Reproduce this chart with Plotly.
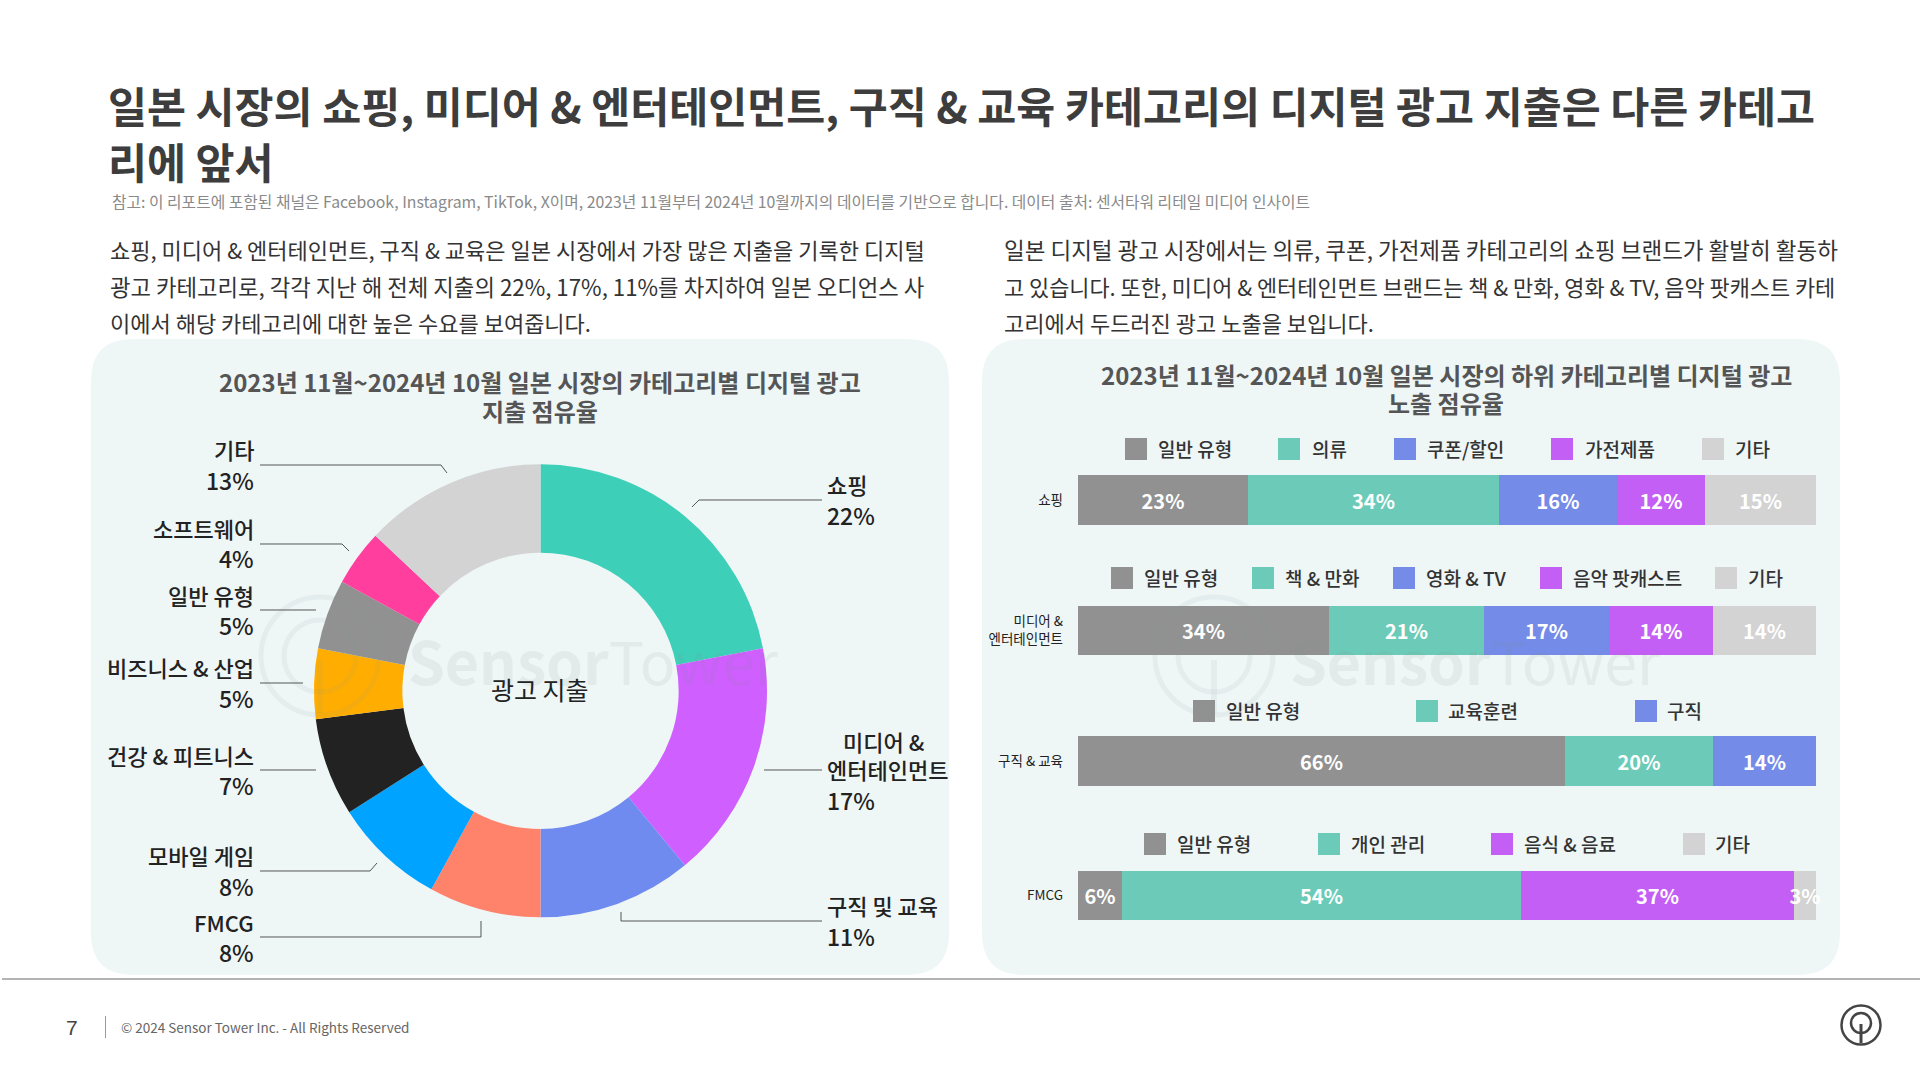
import plotly.graph_objects as go

# Ad spend share by category
categories = ["쇼핑", "미디어 & 엔터테인먼트", "구직 및 교육", "FMCG", "모바일 게임",
              "건강 & 피트니스", "비즈니스 & 산업", "일반 유형", "소프트웨어", "기타"]
spend_share = [22, 17, 11, 8, 8, 7, 5, 5, 4, 13]
slice_colors = ["#3ECFB9", "#CF5FFF", "#6F8BEF", "#FF826B", "#00A3FF",
                "#222222", "#FFAD00", "#919191", "#FF3E9E", "#D3D3D3"]

# Sub-category share per parent category
row_labels = ["쇼핑", "미디어 &<br>엔터테인먼트", "구직 & 교육", "FMCG"]
row_segments = [
    ["일반 유형", "의류", "쿠폰/할인", "가전제품", "기타"],
    ["일반 유형", "책 & 만화", "영화 & TV", "음악 팟캐스트", "기타"],
    ["일반 유형", "교육훈련", "구직"],
    ["일반 유형", "개인 관리", "음식 & 음료", "기타"],
]
row_values = [
    [23, 34, 16, 12, 15],
    [34, 21, 17, 14, 14],
    [66, 20, 14],
    [6, 54, 37, 3],
]
row_colors = [
    ["#919191", "#6BCBB8", "#748BE8", "#C45FF5", "#D3D3D3"],
    ["#919191", "#6BCBB8", "#748BE8", "#C45FF5", "#D3D3D3"],
    ["#919191", "#6BCBB8", "#748BE8"],
    ["#919191", "#6BCBB8", "#C45FF5", "#D3D3D3"],
]

W, H = 1920, 1080
KR = "Noto Sans CJK KR"
fx = lambda x: x / W
fy = lambda y: 1 - y / H

fig = go.Figure()
shapes, notes = [], []


def text(x, y, s, size, color="#222222", anchor="left", weight=400, family=KR, opacity=None):
    note = dict(x=fx(x), y=fy(y), xref="paper", yref="paper", text=s, showarrow=False,
                xanchor=anchor, yanchor="middle", align=anchor,
                font=dict(family=family, size=size, color=color, weight=weight))
    if opacity is not None:
        note["opacity"] = opacity
    notes.append(note)


def polyline(points, color="#555555", width=1, opacity=1.0):
    d = "M " + " L ".join(f"{fx(x):.5f} {fy(y):.5f}" for x, y in points)
    shapes.append(dict(type="path", xref="paper", yref="paper", path=d,
                       line=dict(color=color, width=width), opacity=opacity))


def rounded_panel(x0, y0, x1, y1, r, color):
    pts = [
        f"M {fx(x0 + r):.5f} {fy(y0):.5f}", f"L {fx(x1 - r):.5f} {fy(y0):.5f}",
        f"Q {fx(x1):.5f} {fy(y0):.5f} {fx(x1):.5f} {fy(y0 + r):.5f}",
        f"L {fx(x1):.5f} {fy(y1 - r):.5f}",
        f"Q {fx(x1):.5f} {fy(y1):.5f} {fx(x1 - r):.5f} {fy(y1):.5f}",
        f"L {fx(x0 + r):.5f} {fy(y1):.5f}",
        f"Q {fx(x0):.5f} {fy(y1):.5f} {fx(x0):.5f} {fy(y1 - r):.5f}",
        f"L {fx(x0):.5f} {fy(y0 + r):.5f}",
        f"Q {fx(x0):.5f} {fy(y0):.5f} {fx(x0 + r):.5f} {fy(y0):.5f} Z",
    ]
    shapes.append(dict(type="path", xref="paper", yref="paper", path=" ".join(pts),
                       fillcolor=color, line=dict(width=0), layer="below"))


def ring(cx, cy, r, color, width, opacity=1.0, layer="above"):
    shapes.append(dict(type="circle", xref="paper", yref="paper",
                       x0=fx(cx - r), x1=fx(cx + r), y0=fy(cy + r), y1=fy(cy - r),
                       line=dict(color=color, width=width), opacity=opacity, layer=layer))


# Background panels
rounded_panel(91, 339, 949, 975, 42, "#EEF6F6")
rounded_panel(982, 339, 1840, 975, 42, "#EEF6F6")

# Donut chart
cx, cy, R = 540.5, 690.8, 226.5
fig.add_trace(go.Pie(
    labels=categories, values=spend_share, hole=0.61, sort=False, direction="clockwise",
    rotation=0, marker=dict(colors=slice_colors, line=dict(width=0)), textinfo="none",
    hoverinfo="label+percent", showlegend=False,
    domain=dict(x=[fx(cx - R), fx(cx + R)], y=[fy(cy + R), fy(cy - R)]),
))

# Stacked bars, one axis pair per parent category
row_spans = [(475, 525), (606, 655), (736, 786), (871, 920)]
for i, (label, names, vals, cols, span) in enumerate(zip(row_labels, row_segments, row_values, row_colors, row_spans)):
    suffix = "" if i == 0 else str(i + 1)
    for name, v, c in zip(names, vals, cols):
        fig.add_trace(go.Bar(
            x=[v], y=[label], name=name, orientation="h", xaxis=f"x{suffix}", yaxis=f"y{suffix}",
            marker=dict(color=c, line=dict(width=0)), text=[f"{v}%"], textposition="inside",
            insidetextanchor="middle", constraintext="none", cliponaxis=False, textangle=0,
            textfont=dict(family=KR, size=20, color="white", weight=600),
            showlegend=False,
        ))
    fig.update_layout({
        f"xaxis{suffix}": dict(domain=[fx(1078), fx(1816)], range=[0, 100], visible=False,
                               anchor=f"y{suffix}"),
        f"yaxis{suffix}": dict(domain=[fy(span[1]), fy(span[0])], anchor=f"x{suffix}",
                               showline=False, ticks="", ticklabelstandoff=14, automargin=False,
                               tickfont=dict(family=KR, size=13.5, color="#222222")),
    })

# Legends above each bar
legend_y = [449, 578, 711, 844]
legend_square_x = [
    [1125, 1278, 1394, 1551, 1702],
    [1111, 1252, 1393, 1540, 1715],
    [1193, 1416, 1635],
    [1144, 1318, 1491, 1683],
]
legend_text_x = [
    [1156, 1310, 1425, 1583, 1733],
    [1142, 1283, 1424, 1571, 1746],
    [1224, 1446, 1665],
    [1175, 1349, 1522, 1713],
]
for names, cols, ly, sxs, txs in zip(row_segments, row_colors, legend_y, legend_square_x, legend_text_x):
    for name, c, sx, tx in zip(names, cols, sxs, txs):
        shapes.append(dict(type="rect", xref="paper", yref="paper",
                           x0=fx(sx), x1=fx(sx + 22), y0=fy(ly + 11), y1=fy(ly - 11),
                           fillcolor=c, line=dict(width=0)))
        text(tx, ly - 0.5, name, 19, "#333333", weight=500)

# Watermark
for wx, tx in [(320, 406), (1214, 1288)]:
    ring(wx, 656, 59, "#8a9a9a", 5, 0.09)
    ring(wx, 656, 36, "#8a9a9a", 5, 0.09)
    polyline([(wx, 660), (wx, 713)], "#8a9a9a", 6, 0.09)
    text(tx, 659, "<b>Sensor</b>Tower", 59, "#7f8c8c", opacity=0.10)

# Headline and note
text(106, 105, "일본 시장의 쇼핑, 미디어 & 엔터테인먼트, 구직 & 교육 카테고리의 디지털 광고 지출은 다른 카테고", 42.4, "#3D3D3D", weight=700)
text(106, 160, "리에 앞서", 42.4, "#3D3D3D", weight=700)
text(110, 202, "참고: 이 리포트에 포함된 채널은 Facebook, Instagram, TikTok, X이며, 2023년 11월부터 2024년 10월까지의 데이터를 기반으로 합니다. 데이터 출처: 센서타워 리테일 미디어 인사이트", 15.8, "#8A8A8A")

# Commentary columns, each line sized to fill its column
left_lines = [("쇼핑, 미디어 & 엔터테인먼트, 구직 & 교육은 일본 시장에서 가장 많은 지출을 기록한 디지털", 22),
              ("광고 카테고리로, 각각 지난 해 전체 지출의 22%, 17%, 11%를 차지하여 일본 오디언스 사", 22.3),
              ("이에서 해당 카테고리에 대한 높은 수요를 보여줍니다.", 22)]
right_lines = [("일본 디지털 광고 시장에서는 의류, 쿠폰, 가전제품 카테고리의 쇼핑 브랜드가 활발히 활동하", 22.5),
               ("고 있습니다. 또한, 미디어 & 엔터테인먼트 브랜드는 책 & 만화, 영화 & TV, 음악 팟캐스트 카테", 21.9),
               ("고리에서 두드러진 광고 노출을 보입니다.", 22)]
for (line, size), y in zip(left_lines, (249, 286, 322)):
    text(108, y, line, size, "#333333")
for (line, size), y in zip(right_lines, (249, 286, 322)):
    text(1002, y, line, size, "#333333")

# Panel titles
text(540, 382, "2023년 11월~2024년 10월 일본 시장의 카테고리별 디지털 광고", 24, "#555555", "center", 700)
text(540, 410, "지출 점유율", 24, "#555555", "center", 700)
text(1446, 374, "2023년 11월~2024년 10월 일본 시장의 하위 카테고리별 디지털 광고", 24, "#555555", "center", 700)
text(1446, 402, "노출 점유율", 24, "#555555", "center", 700)
text(540, 689, "광고 지출", 25, "#222222", "center")

# Donut callouts: name line(s), value line, leader
callouts = [
    (0, [(825, 484, "쇼핑", "left")], (825, 515, "left"), [(822, 500), (699, 500), (692, 507)]),
    (1, [(927, 741, "미디어 &", "right"), (825, 769, "엔터테인먼트", "left")], (825, 800, "left"), [(822, 770), (764, 770)]),
    (2, [(825, 905, "구직 및 교육", "left")], (825, 936, "left"), [(822, 921), (621, 921), (621, 912)]),
    (3, [(256, 922, "FMCG", "right")], (256, 952, "right"), [(260, 937), (481, 937), (481, 921)]),
    (4, [(256, 855, "모바일 게임", "right")], (256, 886, "right"), [(260, 871), (370, 871), (377, 863)]),
    (5, [(256, 755, "건강 & 피트니스", "right")], (256, 785, "right"), [(260, 770), (316, 770)]),
    (6, [(256, 667, "비즈니스 & 산업", "right")], (256, 698, "right"), [(260, 683), (303, 683)]),
    (7, [(256, 595, "일반 유형", "right")], (256, 625, "right"), [(260, 610), (316, 610)]),
    (8, [(256, 528, "소프트웨어", "right")], (256, 558, "right"), [(260, 544), (342, 544), (349, 551)]),
    (9, [(256, 449, "기타", "right")], (256, 480, "right"), [(260, 465), (441, 465), (447, 473)]),
]
for idx, name_lines, (vx, vy, va), leader in callouts:
    for nx, ny, s, a in name_lines:
        text(nx, ny, s, 22, "#222222", a, 500)
    text(vx, vy, f"{spend_share[idx]}%", 23, "#222222", va, 500)
    polyline(leader)

# Footer
polyline([(2, 979), (1920, 979)], "#6A6A6A", 1.2)
polyline([(105.5, 1016), (105.5, 1038)], "#999999", 1)
text(64, 1027, "7", 21, "#444444", family="Liberation Sans")
text(119, 1027, "© 2024 Sensor Tower Inc. - All Rights Reserved", 13.5, "#666666")
ring(1861, 1025, 19.5, "#444444", 2.5)
ring(1861, 1023, 10, "#444444", 2.5)
polyline([(1861, 1024), (1861, 1043)], "#444444", 3)

fig.update_layout(
    width=W, height=H, margin=dict(l=0, r=0, t=0, b=0), paper_bgcolor="white",
    plot_bgcolor="rgba(0,0,0,0)", barmode="stack", bargap=0, shapes=shapes, annotations=notes,
    font=dict(family=KR),
)
fig.write_html("out.html")
